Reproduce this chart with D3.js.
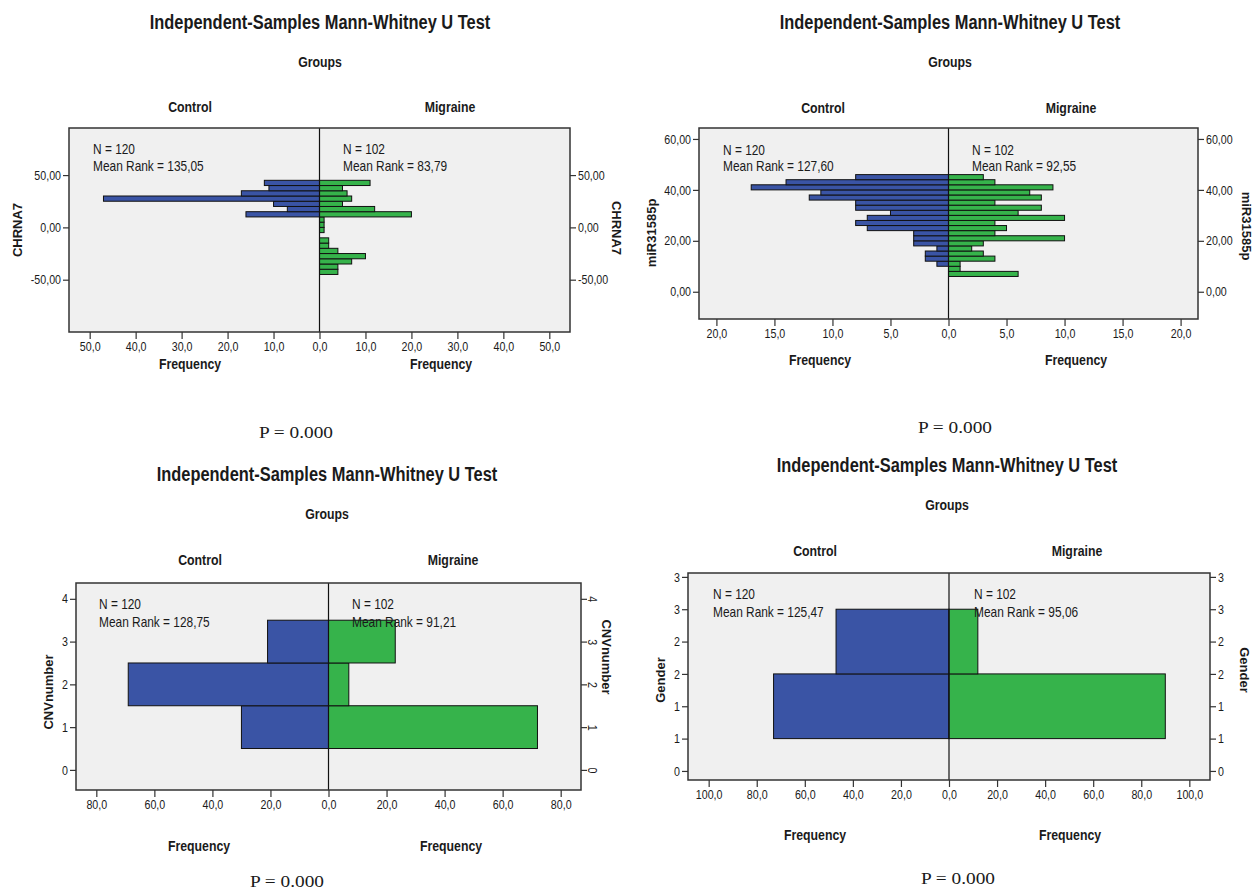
<!DOCTYPE html>
<html>
<head>
<meta charset="utf-8">
<script src="https://cdn.jsdelivr.net/npm/d3@7"></script>
<style>
  body { margin: 0; background: #fff; }
  text { fill: #1a1a1a; }
  .n { font-family: 'Liberation Sans Narrow', 'Liberation Sans', Arial, sans-serif; }
  .w { font-family: 'Liberation Sans', Arial, sans-serif; }
  .s { font-family: 'Liberation Serif', 'Times New Roman', serif; }
</style>
</head>
<body>
<script>
// ---- data ----
const groups = ["Control", "Migraine"];
const groupN = [120, 102];

// CHRNA7, bins of 5 from -45 to 45 (ascending)
const chrnaEdges = [-45,-40,-35,-30,-25,-20,-15,-10,-5,0,5,10,15,20,25,30,35,40,45];
const chrnaControl = [0,0,0,0,0,0,0,0,0,0,0,16,7,10,47,17,11,12];
const chrnaMigraine = [4,4,7,10,4,2,2,0,1,1,1,20,12,5,7,6,5,11];
const chrnaRanks = ["135,05", "83,79"];

// miR31585p, bins of 2 from 6 to 46
const mirEdges = [6,8,10,12,14,16,18,20,22,24,26,28,30,32,34,36,38,40,42,44,46];
const mirControl = [0,0,1,2,2,1,3,3,3,7,8,7,5,8,8,12,11,17,14,8];
const mirMigraine = [6,1,1,4,3,2,3,10,4,5,4,10,6,8,4,8,7,9,4,3];
const mirRanks = ["127,60", "92,55"];

// CNVnumber, categories 1..3
const cnvEdges = [0.5,1.5,2.5,3.5];
const cnvControl = [30,69,21];
const cnvMigraine = [72,7,23];
const cnvRanks = ["128,75", "91,21"];

// Gender, categories 1..2
const genderEdges = [0.5,1.5,2.5];
const genderControl = [73,47];
const genderMigraine = [90,12];
const genderRanks = ["125,47", "95,06"];

const chrnaYTicks = [-50,0,50];
const mirYTicks = [0,20,40,60];
const cnvYTicks = [0,1,2,3,4];
const genderYTicks = [0,0.5,1,1.5,2,2.5,3];

const chrnaXTicks = [0,10,20,30,40,50];
const mirXTicks = [0,5,10,15,20];
const cnvXTicks = [0,20,40,60,80];
const genderXTicks = [0,20,40,60,80,100];

const pValue = "P = 0.000";

// ---- drawing ----
const loc = d3.formatLocale({decimal: ",", thousands: ".", grouping: [3], currency: ["", ""], minus: "-"});
const f2 = loc.format(".2f"), f1 = loc.format(".1f"), f0 = v => String(Math.round(v));

const blue = "#3a54a5", green = "#36b34b";
const svg = d3.select("body").append("svg").attr("width", 1256).attr("height", 892);

const panels = [
  { name: "CHRNA7", edges: chrnaEdges, control: chrnaControl, migraine: chrnaMigraine, ranks: chrnaRanks,
    yTicks: chrnaYTicks, yFmt: f2, xTicks: chrnaXTicks,
    frame: {l: 69, r: 570, t: 128, b: 332}, yDomain: [-100, 95], xMax: 54.5,
    cx: 320, titleY: 29, groupsY: 67, headY: 112, headX: [190, 450],
    nX: [93, 343], nY: [154, 171], freqY: 369, freqX: [190, 441], pX: 296, pY: 438,
    axL: [22, 230], axR: [612, 228] },
  { name: "miR31585p", edges: mirEdges, control: mirControl, migraine: mirMigraine, ranks: mirRanks,
    yTicks: mirYTicks, yFmt: f2, xTicks: mirXTicks,
    frame: {l: 699, r: 1198, t: 128, b: 319}, yDomain: [-10.7, 64.3], xMax: 21.5,
    cx: 950, titleY: 29, groupsY: 67, headY: 113, headX: [823, 1071],
    nX: [723, 972], nY: [155, 171], freqY: 365, freqX: [820, 1076], pX: 955, pY: 433,
    axL: [656, 233], axR: [1242, 226] },
  { name: "CNVnumber", edges: cnvEdges, control: cnvControl, migraine: cnvMigraine, ranks: cnvRanks,
    yTicks: cnvYTicks, yFmt: f0, xTicks: cnvXTicks, rotRight: true,
    frame: {l: 76, r: 581, t: 583, b: 790}, yDomain: [-0.47, 4.37], xMax: 87,
    cx: 327, titleY: 481, groupsY: 519, headY: 565, headX: [200, 453],
    nX: [99, 352], nY: [609, 627], freqY: 851, freqX: [199, 451], pX: 287, pY: 887,
    axL: [53, 692], axR: [602, 657] },
  { name: "Gender", edges: genderEdges, control: genderControl, migraine: genderMigraine, ranks: genderRanks,
    yTicks: genderYTicks, yFmt: f0, xTicks: genderXTicks,
    frame: {l: 688, r: 1210, t: 573, b: 780}, yDomain: [-0.14, 3.06], xMax: 108.6,
    cx: 947, titleY: 472, groupsY: 510, headY: 556, headX: [815, 1077],
    nX: [713, 974], nY: [599, 617], freqY: 840, freqX: [815, 1070], pX: 958, pY: 884,
    axL: [665, 680], axR: [1240, 670] }
];

function txt(g, cls, x, y, s, size, weight, anchor) {
  return g.append("text").attr("class", cls).attr("x", x).attr("y", y)
    .attr("font-size", size).attr("font-weight", weight || "normal")
    .attr("text-anchor", anchor || "start").text(s);
}

panels.forEach(p => {
  const g = svg.append("g");
  const fr = p.frame;
  const x = d3.scaleLinear().domain([-p.xMax, p.xMax]).range([fr.l, fr.r]);
  const y = d3.scaleLinear().domain(p.yDomain).range([fr.b, fr.t]);
  const xc = x(0);

  txt(g, "n", p.cx, p.titleY, "Independent-Samples Mann-Whitney U Test", 20, "bold", "middle");
  txt(g, "n", p.cx, p.groupsY, "Groups", 15, "bold", "middle");
  groups.forEach((gr, i) => txt(g, "n", p.headX[i], p.headY, gr, 15, "bold", "middle"));

  g.append("rect").attr("x", fr.l).attr("y", fr.t).attr("width", fr.r - fr.l).attr("height", fr.b - fr.t)
    .attr("fill", "#f0f0f0");

  const bins = p.edges.slice(0, -1).map((lo, i) => ({lo, hi: p.edges[i + 1], c: p.control[i], m: p.migraine[i]}));

  g.selectAll(".bc").data(bins.filter(d => d.c > 0)).join("rect").attr("class", "bc")
    .attr("x", d => x(-d.c)).attr("width", d => xc - x(-d.c))
    .attr("y", d => y(d.hi)).attr("height", d => y(d.lo) - y(d.hi))
    .attr("fill", blue).attr("stroke", "#111").attr("stroke-width", 1);
  g.selectAll(".bm").data(bins.filter(d => d.m > 0)).join("rect").attr("class", "bm")
    .attr("x", xc).attr("width", d => x(d.m) - xc)
    .attr("y", d => y(d.hi)).attr("height", d => y(d.lo) - y(d.hi))
    .attr("fill", green).attr("stroke", "#111").attr("stroke-width", 1);

  g.append("line").attr("x1", xc).attr("x2", xc).attr("y1", fr.t).attr("y2", fr.b)
    .attr("stroke", "#111").attr("stroke-width", 1.2);
  g.append("rect").attr("x", fr.l).attr("y", fr.t).attr("width", fr.r - fr.l).attr("height", fr.b - fr.t)
    .attr("fill", "none").attr("stroke", "#333").attr("stroke-width", 1.5);

  // N / mean rank
  groups.forEach((gr, i) => {
    txt(g, "n", p.nX[i], p.nY[0], `N = ${groupN[i]}`, 14.5);
    txt(g, "n", p.nX[i], p.nY[1], `Mean Rank = ${p.ranks[i]}`, 14.5);
  });

  // y axes
  const yl = g.append("g").attr("transform", `translate(${fr.l},0)`)
    .call(d3.axisLeft(y).tickValues(p.yTicks).tickFormat(p.yFmt).tickSize(6).tickPadding(2));
  const yr = g.append("g").attr("transform", `translate(${fr.r},0)`)
    .call(d3.axisRight(y).tickValues(p.yTicks).tickFormat(p.yFmt).tickSize(6).tickPadding(2));
  if (p.rotRight) {
    yr.selectAll(".tick text").attr("x", 0)
      .attr("transform", "translate(12,0) rotate(90)").attr("text-anchor", "middle").attr("dy", "0.35em");
  }

  // x axes, one for each half
  const xl = d3.scaleLinear().domain([p.xMax, 0]).range([fr.l, xc]);
  const xr = d3.scaleLinear().domain([0, p.xMax]).range([xc, fr.r]);
  const axb1 = g.append("g").attr("transform", `translate(0,${fr.b})`)
    .call(d3.axisBottom(xl).tickValues(p.xTicks).tickFormat(f1).tickSize(7).tickPadding(3));
  const axb2 = g.append("g").attr("transform", `translate(0,${fr.b})`)
    .call(d3.axisBottom(xr).tickValues(p.xTicks.slice(1)).tickFormat(f1).tickSize(7).tickPadding(3));

  [yl, yr, axb1, axb2].forEach(a => {
    a.select(".domain").remove();
    a.selectAll(".tick line").attr("stroke", "#333").attr("stroke-width", 1.2);
    a.selectAll(".tick text").attr("class", "n").attr("font-size", 13).attr("fill", "#1a1a1a");
  });

  // axis titles
  txt(g, "w", 0, 0, p.name, 13, "bold", "middle").attr("transform", `translate(${p.axL[0]},${p.axL[1]}) rotate(-90)`);
  txt(g, "w", 0, 0, p.name, 13, "bold", "middle").attr("transform", `translate(${p.axR[0]},${p.axR[1]}) rotate(90)`);
  p.freqX.forEach(fx => txt(g, "n", fx, p.freqY, "Frequency", 15, "bold", "middle"));
  txt(g, "s", p.pX, p.pY, pValue, 17, "normal", "middle")
    .attr("textLength", 74).attr("lengthAdjust", "spacingAndGlyphs");
});

// condense the narrow texts when no narrow face is installed
(function () {
  const c = document.createElement("canvas").getContext("2d");
  c.font = "20px 'Liberation Sans Narrow', monospace";
  const a = c.measureText("Mean Rank 12345").width;
  c.font = "20px monospace";
  const b = c.measureText("Mean Rank 12345").width;
  if (a === b) {
    svg.selectAll("text.n").each(function () {
      const len = this.getComputedTextLength();
      d3.select(this).attr("textLength", len * 0.82).attr("lengthAdjust", "spacingAndGlyphs");
    });
  }
})();
</script>
</body>
</html>
